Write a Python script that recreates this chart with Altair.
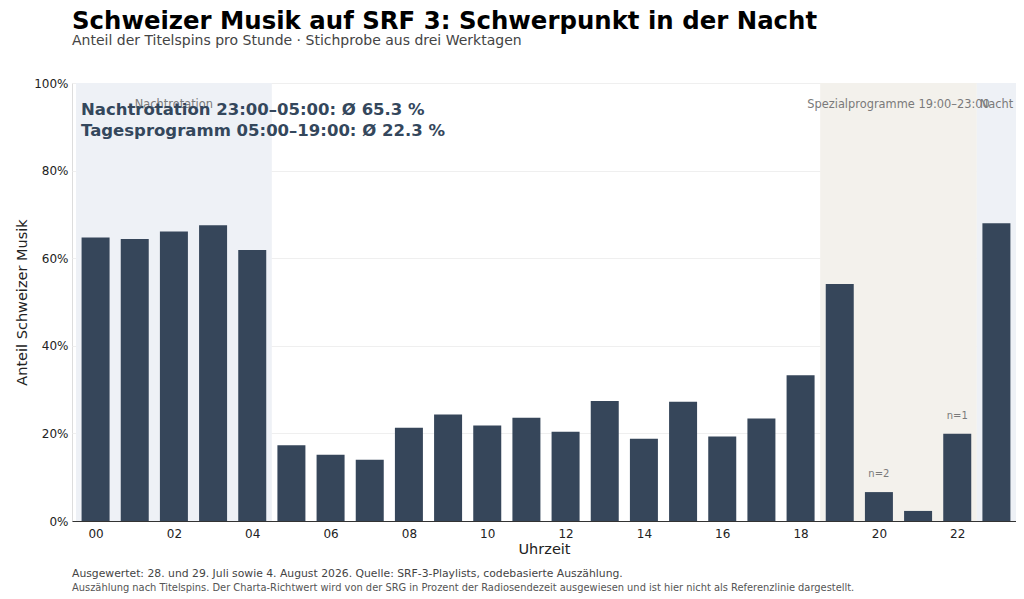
import altair as alt
import pandas as pd

hours = list(range(24))
shares = [64.7, 64.4, 66.1, 67.5, 61.9, 17.3, 15.1, 14.0, 21.3, 24.3, 21.8, 23.6,
          20.4, 27.4, 18.8, 27.2, 19.3, 23.4, 33.3, 54.1, 6.6, 2.3, 19.9, 68.0]

band_labels = ["Nachtrotation", "Spezialprogramme 19:00–23:00", "Nacht"]
band_start = [-0.5, 18.5, 22.5]
band_end = [4.5, 22.5, 23.5]
band_kind = ["night", "special", "night"]

n_hours = [20, 22]
n_text = ["n=2", "n=1"]

summary_lines = ["Nachtrotation 23:00–05:00: Ø 65.3 %", "Tagesprogramm 05:00–19:00: Ø 22.3 %"]
footer_lines = [
    "Ausgewertet: 28. und 29. Juli sowie 4. August 2026. Quelle: SRF-3-Playlists, codebasierte Auszählung.",
    "Auszählung nach Titelspins. Der Charta-Richtwert wird von der SRG in Prozent der Radiosendezeit ausgewiesen und ist hier nicht als Referenzlinie dargestellt.",
]

W, H = 944, 438
FONT = "DejaVu Sans"
BAR = "#36465a"

bars_df = pd.DataFrame({"hour": hours, "share": [s / 100 for s in shares]})
bands_df = pd.DataFrame({"start": band_start, "end": band_end, "kind": band_kind,
                         "label": band_labels, "mid": [(a + b) / 2 for a, b in zip(band_start, band_end)]})
n_df = pd.DataFrame({"hour": n_hours, "label": n_text,
                     "share": [shares[h] / 100 for h in n_hours]})

xscale = alt.Scale(domain=[-0.602, 23.5], nice=False, zero=False, padding=0)
yscale = alt.Scale(domain=[0, 1], nice=False)

bands = alt.Chart(bands_df).mark_rect().encode(
    x=alt.X("start:Q", scale=xscale),
    x2="end:Q",
    color=alt.Color("kind:N", scale=alt.Scale(domain=["night", "special"], range=["#eef1f6", "#f3f1ec"]), legend=None),
)

band_text = alt.Chart(bands_df).mark_text(font=FONT, fontSize=11.4, color="#7a7a7a", baseline="middle").encode(
    x=alt.X("mid:Q", scale=xscale),
    y=alt.value(22),
    text="label:N",
)

bars = alt.Chart(bars_df).mark_bar(size=28, color=BAR).encode(
    x=alt.X("hour:Q", scale=xscale, title="Uhrzeit",
            axis=alt.Axis(values=list(range(0, 24, 2)), format="02d", grid=False, ticks=False,
                          domainColor="#333333", labelFontSize=12, labelColor="#222222", labelFont=FONT,
                          titleFontSize=14.5, titleFontWeight="normal", titleColor="#222222", titleFont=FONT,
                          labelPadding=7, titlePadding=3)),
    y=alt.Y("share:Q", scale=yscale, title="Anteil Schweizer Musik",
            axis=alt.Axis(values=[0, 0.2, 0.4, 0.6, 0.8, 1.0], format=".0%", domain=False, ticks=False,
                          gridColor="#efefef", labelFontSize=12, labelColor="#222222", labelPadding=4,
                          labelFont=FONT, titleFont=FONT,
                          titleFontSize=14.5, titleFontWeight="normal", titleColor="#222222", titlePadding=4)),
)

n_labels = alt.Chart(n_df).mark_text(font=FONT, fontSize=10, color="#7a7a7a", dy=-18, baseline="middle").encode(
    x=alt.X("hour:Q", scale=xscale),
    y=alt.Y("share:Q", scale=yscale),
    text="label:N",
)

summary_df = pd.DataFrame({"text": summary_lines})
summary = [
    alt.Chart(summary_df.iloc[[i]]).mark_text(font=FONT, fontSize=16.5, fontWeight="bold", color="#34475c",
                                               align="left", baseline="middle").encode(
        x=alt.value(9), y=alt.value(ypos), text="text:N")
    for i, ypos in enumerate([27, 48])
]

footer_df = pd.DataFrame({"text": footer_lines})
footer = [
    alt.Chart(footer_df.iloc[[i]]).mark_text(font=FONT, fontSize=fs, color=col, align="left",
                                              baseline="middle").encode(
        x=alt.value(0), y=alt.value(ypos), text="text:N")
    for i, (ypos, fs, col) in enumerate([(H + 53, 10.8, "#444444"), (H + 67, 9.9, "#555555")])
]

chart = alt.layer(bands, band_text, bars, n_labels, *summary, *footer).properties(
    width=W, height=H, padding={"left": 6, "top": 0, "right": 0, "bottom": 0},
    title=alt.TitleParams(
        text="Schweizer Musik auf SRF 3: Schwerpunkt in der Nacht",
        subtitle="Anteil der Titelspins pro Stunde · Stichprobe aus drei Werktagen",
        anchor="start", frame="group", font=FONT, fontSize=24.4, fontWeight="bold", color="#000000",
        subtitleFont=FONT, subtitleFontSize=14, subtitleColor="#444444", subtitlePadding=0,
        offset=28, dx=0,
    ),
).configure_view(stroke=None).configure(background="white")

chart.save("out.html", embed_options={"renderer": "svg", "actions": False})
